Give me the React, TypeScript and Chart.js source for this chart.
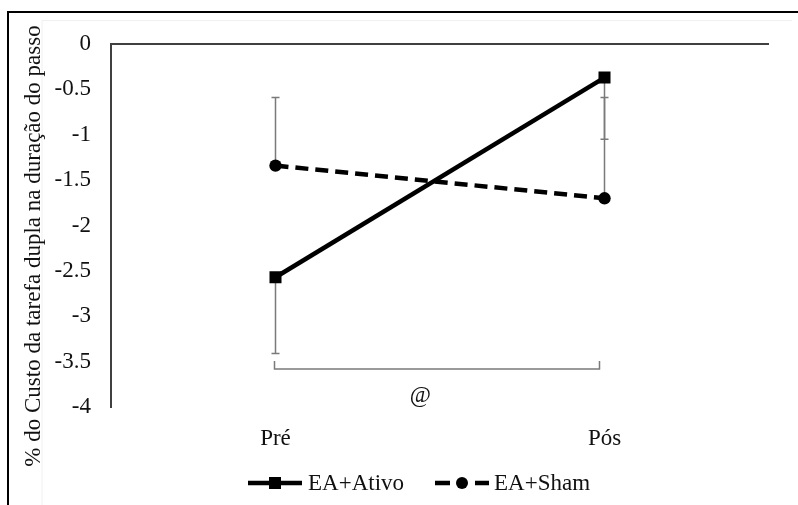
import React, { useEffect, useRef } from "react";
import { Chart, registerables } from "chart.js";

Chart.register(...registerables);

const categories = ["Pré", "Pós"];
const seriesNames = ["EA+Ativo", "EA+Sham"];
const ativoValues = [-2.57, -0.37];
const shamValues = [-1.34, -1.7];
const ativoSD = [0.84, 0.68]; // drawn downward
const shamSD = [0.75, 1.11]; // drawn upward
const yMin = -4;
const yMax = 0;
const yStep = 0.5;
const yAxisTitle = "% do Custo da tarefa dupla na duração do passo";
const bracketValue = -3.58;
const annotationLabel = "@";
const annotationValue = -3.88;

const FONT = '"Liberation Serif", "Times New Roman", serif';
const FONT_SIZE = 23;
const AXIS_COLOR = "#404040";
const ERR_COLOR = "#7a7a7a";
const TEXT_COLOR = "#111";

const extrasPlugin = {
  id: "extras",
  beforeDraw(chart: any) {
    const ctx = chart.ctx;
    ctx.save();
    // faint inner frame
    ctx.strokeStyle = "#f0f0f0";
    ctx.lineWidth = 1;
    ctx.beginPath();
    ctx.moveTo(42, 505);
    ctx.lineTo(42, 20.5);
    ctx.lineTo(792, 20.5);
    ctx.stroke();
    // outer black frame
    ctx.strokeStyle = "#000";
    ctx.lineWidth = 2;
    ctx.beginPath();
    ctx.moveTo(8, 505);
    ctx.lineTo(8, 12);
    ctx.lineTo(798, 12);
    ctx.stroke();
    ctx.restore();
  },
  beforeDatasetsDraw(chart: any) {
    const ctx = chart.ctx;
    const x = chart.scales.x;
    const y = chart.scales.y;
    ctx.save();
    ctx.strokeStyle = ERR_COLOR;
    ctx.lineWidth = 1.5;
    const cap = 4;
    const drawErr = (i: number, v: number, end: number) => {
      const px = x.getPixelForValue(i);
      const p0 = y.getPixelForValue(v);
      const p1 = y.getPixelForValue(end);
      ctx.beginPath();
      ctx.moveTo(px, p0);
      ctx.lineTo(px, p1);
      ctx.moveTo(px - cap, p1);
      ctx.lineTo(px + cap, p1);
      ctx.stroke();
    };
    ativoValues.forEach((v, i) => drawErr(i, v, v - ativoSD[i]));
    shamValues.forEach((v, i) => drawErr(i, v, v + shamSD[i]));
    // bracket
    const bx0 = x.getPixelForValue(0) - 1;
    const bx1 = x.getPixelForValue(1) - 5;
    const by = y.getPixelForValue(bracketValue);
    ctx.beginPath();
    ctx.moveTo(bx0, by - 8);
    ctx.lineTo(bx0, by);
    ctx.lineTo(bx1, by);
    ctx.lineTo(bx1, by - 8);
    ctx.stroke();
    ctx.restore();
  },
  afterDraw(chart: any) {
    const ctx = chart.ctx;
    const x = chart.scales.x;
    const y = chart.scales.y;
    ctx.save();
    ctx.fillStyle = TEXT_COLOR;
    ctx.font = `${FONT_SIZE}px ${FONT}`;
    // annotation
    const ax = x.getPixelForValue(0) + (x.getPixelForValue(1) - x.getPixelForValue(0)) * 0.44;
    ctx.textAlign = "center";
    ctx.textBaseline = "middle";
    ctx.fillText(annotationLabel, ax, y.getPixelForValue(annotationValue));
    // y-axis title
    ctx.save();
    ctx.translate(34, 246);
    ctx.rotate(-Math.PI / 2);
    ctx.textAlign = "center";
    ctx.textBaseline = "middle";
    ctx.fillText(yAxisTitle, 0, 0);
    ctx.restore();
    // legend
    const ly = 483;
    ctx.strokeStyle = "#000";
    ctx.fillStyle = "#000";
    ctx.lineWidth = 4.5;
    ctx.beginPath();
    ctx.moveTo(248, ly);
    ctx.lineTo(302, ly);
    ctx.stroke();
    const s = 6;
    ctx.fillRect(275 - s, ly - s, 2 * s, 2 * s);
    ctx.fillStyle = TEXT_COLOR;
    ctx.textAlign = "left";
    ctx.fillText(seriesNames[0], 308, ly + 1);
    ctx.fillStyle = "#000";
    ctx.beginPath();
    ctx.moveTo(435, ly);
    ctx.lineTo(450, ly);
    ctx.moveTo(475, ly);
    ctx.lineTo(489, ly);
    ctx.stroke();
    ctx.beginPath();
    ctx.arc(462, ly, 6, 0, Math.PI * 2);
    ctx.fill();
    ctx.fillStyle = TEXT_COLOR;
    ctx.fillText(seriesNames[1], 494, ly + 1);
    ctx.restore();
  },
};

export default function App() {
  const canvasRef = useRef<HTMLCanvasElement | null>(null);

  useEffect(() => {
    const canvas = canvasRef.current;
    if (!canvas) return;
    const chart = new Chart(canvas, {
      type: "line",
      data: {
        labels: categories,
        datasets: [
          {
            label: seriesNames[0],
            data: ativoValues,
            borderColor: "#000",
            backgroundColor: "#000",
            borderWidth: 4.5,
            pointStyle: "rect",
            pointRadius: 8.5,
            pointBorderWidth: 0,
            pointBackgroundColor: "#000",
            tension: 0,
          },
          {
            label: seriesNames[1],
            data: shamValues,
            borderColor: "#000",
            backgroundColor: "#000",
            borderWidth: 4.5,
            borderDash: [13, 7],
            pointStyle: "circle",
            pointRadius: 6.2,
            pointBorderWidth: 0,
            pointBackgroundColor: "#000",
            tension: 0,
          },
        ],
      },
      options: {
        responsive: false,
        animation: false,
        devicePixelRatio: 1,
        layout: { padding: { left: 0, top: 44, right: 29, bottom: 0 } },
        plugins: { legend: { display: false }, tooltip: { enabled: false } },
        scales: {
          x: {
            type: "category",
            offset: true,
            grid: { display: false, drawTicks: false },
            border: { display: false },
            ticks: { color: TEXT_COLOR, font: { family: FONT, size: FONT_SIZE }, padding: 18 },
            afterFit: (s: any) => {
              s.height = 98;
            },
          },
          y: {
            min: yMin,
            max: yMax,
            ticks: {
              stepSize: yStep,
              color: TEXT_COLOR,
              font: { family: FONT, size: FONT_SIZE },
              padding: 20,
              callback: (v: any) => String(v),
            },
            grid: {
              drawTicks: false,
              lineWidth: 2,
              color: (c: any) => (c.tick && c.tick.value === 0 ? AXIS_COLOR : "rgba(0,0,0,0)"),
            },
            border: { display: true, color: AXIS_COLOR, width: 2 },
            afterFit: (s: any) => {
              s.width = 111;
            },
          },
        },
      },
      plugins: [extrasPlugin],
    });
    return () => chart.destroy();
  }, []);

  return (
    <div style={{ position: "fixed", left: 0, top: 0, width: 798, height: 505, background: "#fff" }}>
      <canvas ref={canvasRef} width={798} height={505} style={{ display: "block" }} />
    </div>
  );
}
